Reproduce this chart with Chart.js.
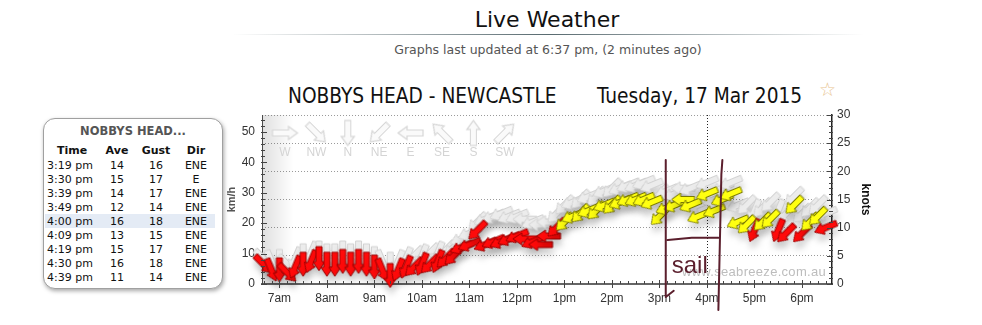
<!DOCTYPE html>
<html>
<head>
<meta charset="utf-8">
<script src="https://cdn.jsdelivr.net/npm/chart.js@4.4.1/dist/chart.umd.min.js"></script>
<style>
html,body{margin:0;padding:0;background:#fff;width:982px;height:325px;overflow:hidden;font-family:"DejaVu Sans",Verdana,sans-serif;}
.abs{position:absolute;white-space:nowrap;}
#pageTitle{left:397px;width:300px;top:7px;text-align:center;font-size:22px;color:#111;}
#rule{left:232px;top:34px;width:632px;height:1px;background:linear-gradient(to right,rgba(80,100,105,0),rgba(70,90,96,0.9) 50%,rgba(80,100,105,0));}
#updated{left:348px;width:400px;top:42px;text-align:center;font-size:12.5px;color:#555;}
#chartName{left:288px;top:84px;font-family:"DejaVu Sans Condensed","DejaVu Sans",sans-serif;font-size:20.7px;color:#111;}
#chartDate{left:597px;top:84px;font-family:"DejaVu Sans Condensed","DejaVu Sans",sans-serif;font-size:20.7px;color:#111;}
#star{left:819px;top:78px;font-size:19px;color:#e8c490;}
#box{left:43px;top:118px;width:178px;height:169px;border:1px solid #a0a0a0;border-radius:12px;box-shadow:1px 2px 4px rgba(0,0,0,0.35);background:#fff;}
#boxTitle{left:43px;width:180px;top:124px;text-align:center;font-size:11.5px;font-weight:bold;color:#555;}
.cell{font-size:11px;color:#111;line-height:14px;}
.hdr{font-weight:bold;}
#hl{left:45px;top:214px;width:170px;height:14px;background:#e4ebf5;}
#wrap{left:225px;top:100px;}
</style>
</head>
<body>
<div id="pageTitle" class="abs">Live Weather</div>
<div id="rule" class="abs"></div>
<div id="updated" class="abs">Graphs last updated at 6:37 pm, (2 minutes ago)</div>
<div id="chartName" class="abs">NOBBYS HEAD - NEWCASTLE</div>
<div id="chartDate" class="abs">Tuesday, 17 Mar 2015</div>
<div id="star" class="abs">☆</div>
<div id="box" class="abs"></div>
<div id="hl" class="abs"></div>
<div id="boxTitle" class="abs">NOBBYS HEAD...</div>
<div id="tableHost"></div>
<div id="wrap" class="abs"><canvas id="c" width="660" height="222"></canvas></div>
<script>
// ---------------- DATA ----------------
const obsTimes = ["6:40","6:50","7:00","7:10","7:20","7:30","7:40","7:50","8:00","8:10","8:20","8:30","8:40","8:50","9:00","9:10","9:20","9:30","9:40","9:50","10:00","10:10","10:20","10:30","10:40","10:50","11:00","11:10","11:20","11:30","11:40","11:50","12:00","12:10","12:20","12:30","12:40","12:50","13:00","13:10","13:20","13:30","13:40","13:50","14:00","14:10","14:20","14:30","14:40","14:50","15:00","15:09","15:19","15:30","15:39","15:49","16:00","16:09","16:19","16:30","16:39","16:50","17:00","17:10","17:20","17:30","17:40","17:50","18:00","18:10","18:20","18:30"];
const aveKnots = [3.5,2.5,2.5,2,3,3.5,4,4.5,3.5,3.5,4,3.5,4,3.5,3,2.5,1.5,2.5,3,3,3.5,3.5,4,4.5,5,6.5,7,9.5,7,7.5,7.5,8,8.5,8,7.5,7,8.5,10,11,12,12.5,13,13,14,14,14.5,15,15,15,14.5,12,13.5,14,15,14,12,16,13,15,16,11,10.5,9.5,11,11.5,9.5,9,14,9,11,12,10];
const gustKnots = [4.5,4,4,3.5,4.5,5,5.5,5.5,5,5,5.5,5,5.5,5,4.5,4,3.5,4,4.5,5,5,5.5,5.5,6,6.5,8,9,11,11.5,12,12.5,12,12,11.5,11,10.5,11,12.5,14,14.5,15,15.5,15.5,16.5,17,17,17.5,17.5,18,17.5,16,16.5,16,17,17,14,18,15,17,18,14,14,13,13.5,14.5,13,12.5,15.5,12.5,13.5,14,12.5];
const obsDirs = ["NW","NNW","N","NW","NNE","N","NNE","N","N","N","N","N","N","N","N","NNW","N","NNE","NNE","NE","NNE","NE","NNE","NE","NE","ENE","ENE","NE","ENE","ENE","ENE","ENE","ENE","E","ENE","E","E","NE","NE","ENE","NE","ENE","NE","ENE","NE","ENE","ENE","ENE","ENE","ENE","NE","ENE","ENE","E","ENE","ENE","ENE","ENE","ENE","ENE","ENE","NE","NNE","NE","NE","NNE","NE","NE","NE","NE","NE","ENE"];

const xTickHours = [7,8,9,10,11,12,13,14,15,16,17,18];
const xTickLabels = ["7am","8am","9am","10am","11am","12pm","1pm","2pm","3pm","4pm","5pm","6pm"];
const kmhTicks = [0,10,20,30,40,50];
const knotTicks = [0,5,10,15,20,25,30];
const legendDirs = ["W","NW","N","NE","E","SE","S","SW"];

const tableTimes = ["3:19 pm","3:30 pm","3:39 pm","3:49 pm","4:00 pm","4:09 pm","4:19 pm","4:30 pm","4:39 pm"];
const tableAve = [14,15,14,12,16,13,15,16,11];
const tableGust = [16,17,17,14,18,15,17,18,14];
const tableDir = ["ENE","E","ENE","ENE","ENE","ENE","ENE","ENE","ENE"];
const tableHeaders = ["Time","Ave","Gust","Dir"];

// annotation ("sail") in time / knots
const cursorTime = "16:00";
const sailLeft = "15:08", sailRight = "16:17";

// ---------------- HELPERS ----------------
const COMPASS = ["N","NNE","NE","ENE","E","ESE","SE","SSE","S","SSW","SW","WSW","W","WNW","NW","NNW"];
const dirDeg = d => COMPASS.indexOf(d) * 22.5;
const toMin = s => { const [h,m] = s.split(":").map(Number); return h*60+m; };

// ---------------- TABLE ----------------
(function(){
  const host = document.getElementById('tableHost');
  const colX = [47,117,156,196];
  function put(txt, col, top, bold){
    const d = document.createElement('div');
    d.className = 'abs cell' + (bold ? ' hdr' : '');
    d.textContent = txt;
    d.style.top = top + 'px';
    if (col === 0 && !bold) { d.style.left = colX[0] + 'px'; }
    else { d.style.left = (colX[col]-30) + 'px'; d.style.width = '60px'; d.style.textAlign = 'center'; }
    host.appendChild(d);
  }
  tableHeaders.forEach((h,i)=>{ put(h, i, 144, true); });
  host.children[0].style.left = '42px';
  tableTimes.forEach((t,r)=>{
    const top = 159 + r*13.95;
    put(t,0,top,false); put(String(tableAve[r]),1,top,false); put(String(tableGust[r]),2,top,false); put(tableDir[r],3,top,false);
  });
})();

// ---------------- ARROW IMAGES ----------------
function makeArrow(fill, stroke, len, shaftW, headW, headL, lw){
  const c = document.createElement('canvas');
  c.width = len + 4; c.height = headW + 4;
  const g = c.getContext('2d');
  const cy = c.height/2, x0 = 2, x1 = 2 + len;
  g.beginPath();
  g.moveTo(x0, cy - shaftW/2);
  g.lineTo(x1 - headL, cy - shaftW/2);
  g.lineTo(x1 - headL, cy - headW/2);
  g.lineTo(x1, cy);
  g.lineTo(x1 - headL, cy + headW/2);
  g.lineTo(x1 - headL, cy + shaftW/2);
  g.lineTo(x0, cy + shaftW/2);
  g.closePath();
  g.fillStyle = fill; g.fill();
  g.lineWidth = lw || 1; g.strokeStyle = stroke; g.stroke();
  return c;
}
const redArrow = makeArrow('#ff0a0a', '#9a0000', 24, 6, 12, 9);
const yellowArrow = makeArrow('#ffff10', '#7a7a00', 23, 6, 13, 9);
const grayArrow = makeArrow('#ececec', '#d2d2d2', 24, 6, 13, 9);
const legendArrow = makeArrow('#fafafa', '#d6d6d6', 25, 6, 13, 9, 1.2);

const rotOf = d => dirDeg(d) + 90; // arrow points where wind blows to
const avePts = obsTimes.map((t,i)=>({x: toMin(t), y: aveKnots[i]}));
const gustPts = obsTimes.map((t,i)=>({x: toMin(t), y: gustKnots[i]}));
const aveStyles = aveKnots.map(v => v >= 10.5 ? yellowArrow : redArrow);
const rotations = obsDirs.map(rotOf);

// ---------------- PLUGIN ----------------
const deco = {
  id: 'deco',
  beforeDatasetsDraw(chart){
    const {ctx, chartArea:a, scales} = chart;
    ctx.save();
    const g = ctx.createLinearGradient(a.left,0,a.left+32,0);
    g.addColorStop(0,'rgba(0,0,0,0.12)'); g.addColorStop(1,'rgba(0,0,0,0)');
    ctx.fillStyle = g; ctx.fillRect(a.left, a.top, 32, a.bottom-a.top);
    ctx.font = '12px "Liberation Sans", Arial, sans-serif';
    ctx.fillStyle = '#d4d4d4'; ctx.textAlign = 'center'; ctx.textBaseline = 'middle';
    legendDirs.forEach((d,i)=>{
      const x = a.left + 23 + i*31.4;
      ctx.save(); ctx.translate(x, a.top + 18); ctx.rotate(rotOf(d)*Math.PI/180);
      ctx.drawImage(legendArrow, -legendArrow.width/2, -legendArrow.height/2); ctx.restore();
      ctx.fillText(d, x, a.top + 38);
    });
    const cx = Math.round(scales.x.getPixelForValue(toMin(cursorTime))) + 0.5;
    ctx.strokeStyle = '#222'; ctx.lineWidth = 1; ctx.setLineDash([1,2]);
    ctx.beginPath(); ctx.moveTo(cx, a.top); ctx.lineTo(cx, a.bottom); ctx.stroke();
    ctx.setLineDash([]);
    ctx.font = '13px "Liberation Sans", Arial, sans-serif';
    ctx.fillStyle = '#bdbdbd'; ctx.textAlign = 'right';
    try { ctx.letterSpacing = '0.3px'; } catch(e) {}
    ctx.fillText('www.seabreeze.com.au', a.right - 6, a.bottom - 12);
    try { ctx.letterSpacing = '0px'; } catch(e) {}
    ctx.restore();
    ctx.save();
    ctx.shadowColor = 'rgba(0,0,0,0.17)'; ctx.shadowBlur = 6; ctx.shadowOffsetY = 7; ctx.shadowOffsetX = 1;
  },
  afterDatasetsDraw(chart){
    chart.ctx.restore();
  },
  afterDraw(chart){
    const {ctx, chartArea:a, scales} = chart;
    const X = scales.x, Y = scales.y, K = scales.y1;
    ctx.save();
    ctx.strokeStyle = '#444'; ctx.lineWidth = 1;
    ctx.beginPath();
    for (let m = X.min; m <= X.max; m++) {
      if (m % 10 !== 0) continue;
      const px = Math.round(X.getPixelForValue(m)) + 0.5;
      if (m % 60 === 0) { ctx.moveTo(px, a.bottom - 4); ctx.lineTo(px, a.bottom + 4); }
      else { ctx.moveTo(px, a.bottom - 3); ctx.lineTo(px, a.bottom); }
    }
    for (let v = 0; v <= 55; v += 2) {
      const py = Math.round(Y.getPixelForValue(v)) + 0.5;
      const L = v % 10 === 0 ? 5 : 3;
      ctx.moveTo(a.left - 1, py); ctx.lineTo(a.left + L, py);
    }
    for (let v = 0; v <= 30; v += 1) {
      const py = Math.round(K.getPixelForValue(v)) + 0.5;
      const L = v % 5 === 0 ? 5 : 3;
      ctx.moveTo(a.right + 1, py); ctx.lineTo(a.right - L, py);
    }
    ctx.stroke();
    const xl = X.getPixelForValue(toMin(sailLeft)), xr = X.getPixelForValue(toMin(sailRight));
    ctx.strokeStyle = '#5b1f2d'; ctx.lineWidth = 2; ctx.lineCap = 'round'; ctx.lineJoin = 'round';
    ctx.beginPath();
    ctx.moveTo(xl, K.getPixelForValue(22)); ctx.lineTo(xl, K.getPixelForValue(-2.3));
    ctx.lineTo(xl + 8, K.getPixelForValue(-1.2));
    ctx.moveTo(xr + 2, K.getPixelForValue(22)); ctx.lineTo(xr + 1, K.getPixelForValue(19.5));
    ctx.lineTo(xr - 2, K.getPixelForValue(-4.6));
    ctx.moveTo(xl + 2, K.getPixelForValue(7.8)); ctx.lineTo(xl + 26, K.getPixelForValue(8.2));
    ctx.lineTo(xr - 2, K.getPixelForValue(8.2));
    ctx.stroke();
    ctx.fillStyle = '#5b1f2d'; ctx.font = '24px "Liberation Sans", Arial, sans-serif';
    ctx.textAlign = 'left'; ctx.textBaseline = 'alphabetic';
    ctx.fillText('sail', xl + 6, K.getPixelForValue(1.9));
    ctx.restore();
  }
};

const tickFont = {family: '"Liberation Sans", Arial, sans-serif', size: 12};

new Chart(document.getElementById('c'), {
  type: 'scatter',
  data: {
    datasets: [
      {label: 'Ave', data: avePts, yAxisID: 'y1', pointStyle: aveStyles, rotation: rotations, pointRadius: 10, showLine: false, clip: false, order: 0},
      {label: 'Gust', data: gustPts, yAxisID: 'y1', pointStyle: grayArrow, rotation: rotations, pointRadius: 10, showLine: false, clip: false, order: 1}
    ]
  },
  options: {
    responsive: false, animation: false, devicePixelRatio: 1,
    layout: {padding: {top: 15, left: 0, right: 0, bottom: 0}},
    events: [],
    plugins: {legend: {display: false}, tooltip: {enabled: false}},
    scales: {
      x: {
        type: 'linear', min: 398, max: 1118,
        afterBuildTicks: s => { s.ticks = xTickHours.map(h => ({value: h*60})); },
        afterFit: s => { s.height = 38; },
        ticks: {autoSkip: false, maxRotation: 0, padding: 7, color: '#333', font: tickFont,
          callback: v => xTickLabels[xTickHours.indexOf(v/60)]},
        grid: {drawOnChartArea: false, drawTicks: false},
        border: {color: '#666', width: 2}
      },
      y: {
        position: 'left', min: 0, max: 55.56,
        afterBuildTicks: s => { s.ticks = kmhTicks.map(v => ({value: v})); },
        afterFit: s => { s.width = 37; },
        ticks: {padding: 7, color: '#333', font: tickFont},
        grid: {drawOnChartArea: false, drawTicks: false},
        border: {color: '#555', width: 1},
        title: {display: true, text: 'km/h', color: '#555', padding: {top: 0, bottom: 0}, font: {family: '"Liberation Sans", Arial, sans-serif', size: 11, weight: 'bold'}}
      },
      y1: {
        position: 'right', min: 0, max: 30,
        afterBuildTicks: s => { s.ticks = knotTicks.map(v => ({value: v})); },
        afterFit: s => { s.width = 53; },
        ticks: {padding: 5, color: '#333', font: tickFont},
        grid: {drawOnChartArea: true, drawTicks: false, color: '#9a9a9a', lineWidth: 1},
        border: {color: '#222', width: 1.5, dash: [1, 2]},
        title: {display: true, text: 'knots', color: '#111', padding: {top: 12, bottom: 0}, font: {family: '"Liberation Sans", Arial, sans-serif', size: 12, weight: 'bold'}}
      }
    }
  },
  plugins: [deco]
});
</script>
</body>
</html>
